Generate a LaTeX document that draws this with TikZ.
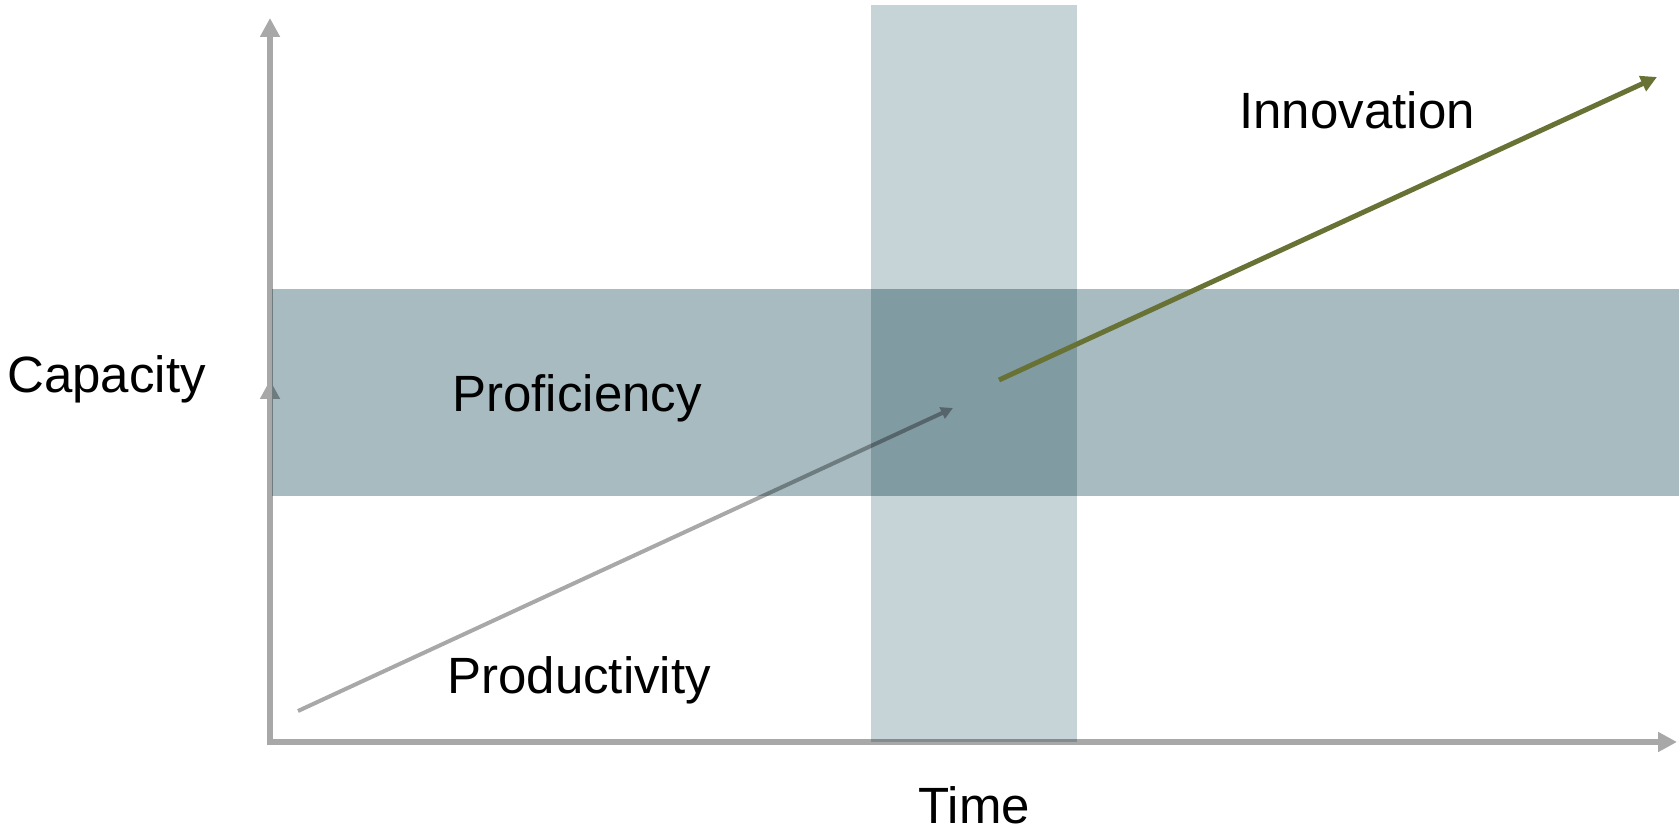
\documentclass[tikz,border=0pt]{standalone}
\usepackage{fontspec}
\setmainfont{Liberation Sans}
\usepackage{tikz}
\usetikzlibrary{arrows.meta}
\usepackage{xcolor}

\definecolor{axisgray}{HTML}{A8A8A8}
\definecolor{bandlight}{HTML}{C6D4D8}
\definecolor{banddark}{HTML}{A7BBC1}
\definecolor{innovolive}{HTML}{687234}

\begin{document}
\begin{tikzpicture}[x=0.5pt, y=0.5pt, every node/.style={font=\fontsize{25.5}{30}\selectfont, inner sep=0pt, anchor=base west}]
    \useasboundingbox (0,0) rectangle (1679,833);

    % Axes
    \coordinate (origin) at (270,91);
    \coordinate (ytop) at (270,815);
    \coordinate (ymid) at (270,453);
    \coordinate (xend) at (1677,91);
    \draw[axisgray, line width=3pt, line join=miter, {Triangle[width=9.5pt,length=9.5pt]}-{Triangle[width=9.5pt,length=9.5pt]}] (ytop) -- (origin) -- (xend);
    \draw[axisgray, line width=3pt, -{Triangle[width=9.5pt,length=9.5pt]}] (origin) -- (ymid);

    % Productivity
    \coordinate (prodstart) at (298,122);
    \coordinate (prodend) at (953,425);
    \draw[axisgray, line width=2pt, -{Triangle[width=6pt,length=6pt]}] (prodstart) -- (prodend);

    % Bands
    \fill[bandlight, blend mode=multiply] (871,91) rectangle (1077,828);
    \fill[banddark, blend mode=multiply] (272,337) rectangle (1679,544);

    % Innovation
    \coordinate (innostart) at (999,453);
    \coordinate (innoend) at (1657,756);
    \draw[innovolive, line width=2.5pt, -{Triangle[width=8pt,length=8pt]}] (innostart) -- (innoend);

    % Labels
    \node (capacity) at (7,440) {Capacity};
    \node (proficiency) at (452,421) {Proficiency};
    \node (productivity) at (447,139) {Productivity};
    \node (innovation) at (1239,704) {Innovation};
    \node (time) at (918,9) {Time};

\end{tikzpicture}
\end{document}
